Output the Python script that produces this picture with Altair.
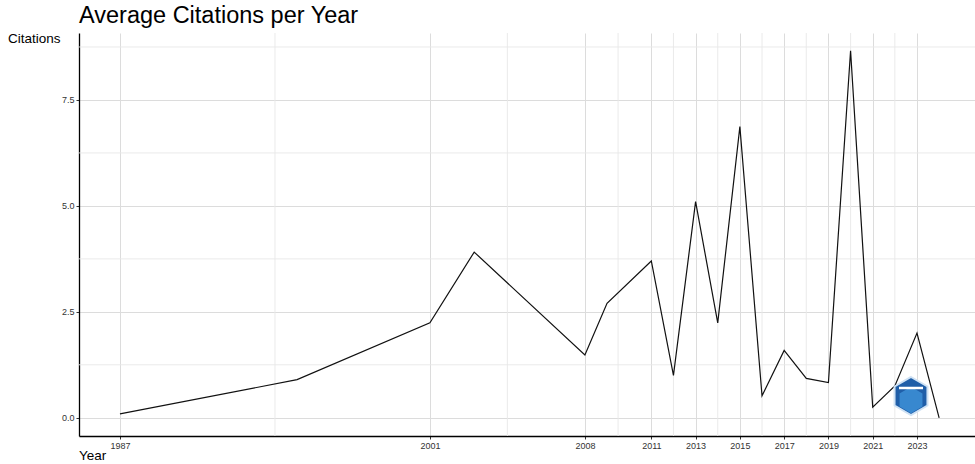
import altair as alt
import pandas as pd

# Average citations per publication year
years = [1987, 1995, 2001, 2003, 2008, 2009, 2011, 2012, 2013, 2014,
         2015, 2016, 2017, 2018, 2019, 2020, 2021, 2022, 2023, 2024]
citations = [0.09, 0.90, 2.24, 3.91, 1.48, 2.70, 3.70, 1.00, 5.10, 2.24,
             6.87, 0.52, 1.59, 0.93, 0.83, 8.66, 0.25, 0.75, 2.00, 0.00]

# Axis breaks (major) and the minor grid halfway between them
year_breaks = [1987, 2001, 2008, 2011, 2013, 2015, 2017, 2019, 2021, 2023]
citation_breaks = [0.0, 2.5, 5.0, 7.5]
year_minor = [(a + b) / 2 for a, b in zip(year_breaks[:-1], year_breaks[1:])]
citation_minor = [1.25, 3.75, 6.25, 8.75]

x_domain = [1985.15, 2025.62]
y_domain = [-0.43, 9.08]

FONT = "Liberation Sans"
MAJOR_GRID = "#dcdcdc"
MINOR_GRID = "#e8e8e8"

line_df = pd.DataFrame({"year": years, "citations": citations})
vminor_df = pd.DataFrame({"year": year_minor})
hminor_df = pd.DataFrame({"citations": citation_minor})

axis_common = dict(
    title=None,
    grid=True,
    gridColor=MAJOR_GRID,
    gridWidth=1,
    labelFont=FONT,
    labelFontSize=9,
    labelColor="#333333",
    tickColor="#333333",
    tickSize=3,
    tickWidth=1,
    domainColor="#000000",
    domainWidth=1.3,
    labelPadding=2,
    labelOverlap=False,
    labelFlush=False,
)

x_enc = alt.X(
    "year:Q",
    scale=alt.Scale(domain=x_domain, nice=False, zero=False),
    axis=alt.Axis(values=year_breaks, format="d", **axis_common),
)
y_enc = alt.Y(
    "citations:Q",
    scale=alt.Scale(domain=y_domain, nice=False, zero=False),
    axis=alt.Axis(values=citation_breaks, format=".1f", **axis_common),
)

vminor = alt.Chart(vminor_df).mark_rule(color=MINOR_GRID, strokeWidth=0.9).encode(x=x_enc)
hminor = alt.Chart(hminor_df).mark_rule(color=MINOR_GRID, strokeWidth=0.9).encode(y=y_enc)

line = alt.Chart(line_df).mark_line(color="#111111", strokeWidth=1.2).encode(x=x_enc, y=y_enc)

blank = alt.Data(values=[{}])
hexagon = "M0,-1L0.866,-0.5L0.866,0.5L0,1L-0.866,0.5L-0.866,-0.5Z"

logo_outer = alt.Chart(blank).mark_point(
    shape=hexagon, size=1444, filled=True, fill="#1f5ea8",
    stroke="#cfe2f4", strokeWidth=2, opacity=1,
).encode(x=alt.value(832), y=alt.value(363))
logo_inner = alt.Chart(blank).mark_point(
    shape=hexagon, size=700, filled=True, fill="#3d8fd6", opacity=0.85,
).encode(x=alt.value(832), y=alt.value(367))
logo_band = alt.Chart(blank).mark_rule(color="#ffffff", strokeWidth=2.5).encode(
    x=alt.value(820), x2=alt.value(844), y=alt.value(355)
)

title = alt.Chart(blank).mark_text(
    text="Average Citations per Year", font=FONT, fontSize=23.5,
    align="left", baseline="alphabetic", color="#000000",
).encode(x=alt.value(0), y=alt.value(-10))
y_title = alt.Chart(blank).mark_text(
    text="Citations", font=FONT, fontSize=13.5,
    align="left", baseline="alphabetic", color="#000000",
).encode(x=alt.value(-71), y=alt.value(9.5))
x_title = alt.Chart(blank).mark_text(
    text="Year", font=FONT, fontSize=13.5,
    align="left", baseline="alphabetic", color="#000000",
).encode(x=alt.value(0), y=alt.value(427))

chart = alt.layer(
    vminor, hminor, line, logo_outer, logo_inner, logo_band, title, y_title, x_title
).properties(
    width=896,
    height=403,
    autosize=alt.AutoSizeParams(type="none"),
    padding={"left": 79, "top": 33, "right": 0, "bottom": 28},
    background="#ffffff",
).configure_view(stroke=None)

chart.save("out.html", embed_options={"renderer": "svg", "actions": False})
